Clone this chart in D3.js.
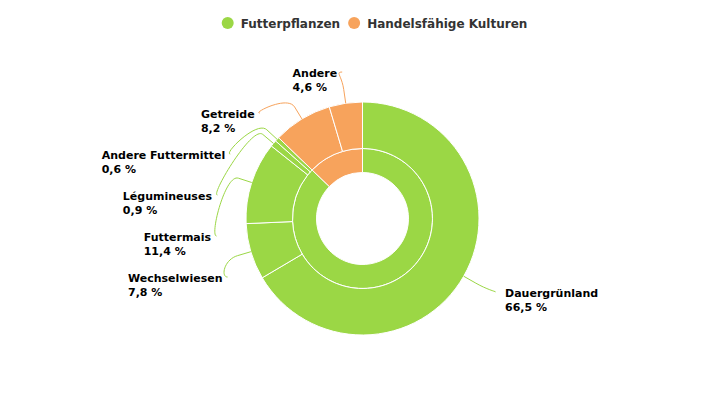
<!DOCTYPE html>
<html><head><meta charset="utf-8">
<script src="https://cdn.jsdelivr.net/npm/d3@7"></script>
<style>body{margin:0;background:#fff}svg{display:block}</style>
</head><body>
<svg id="chart" width="725" height="400"></svg>
<script>
// ---- data ----
const groups = ["Futterpflanzen", "Handelsfähige Kulturen"];
const groupValues = [87.2, 12.8];
const categories = ["Dauergrünland", "Wechselwiesen", "Futtermais", "Légumineuses", "Andere Futtermittel", "Getreide", "Andere"];
const categoryValues = [66.5, 7.8, 11.4, 0.9, 0.6, 8.2, 4.6];
const categoryGroup = [0, 0, 0, 0, 0, 1, 1];

// ---- style ----
const colors = ["#9bd745", "#f7a35c"];
const W = 725, H = 400;
const cx = 362.5, cy = 218.5;
const rHole = 46, rMid = 70, rOuter = 116.5;
const labelR = 148;
const fontFam = "'DejaVu Sans', sans-serif";

const svg = d3.select("#chart");
const fmt = v => d3.format(".1f")(v).replace(".", ",") + " %";

const pie = d3.pie().sort(null).value(d => d).startAngle(0).endAngle(2 * Math.PI);
const innerArcs = pie(groupValues);
const outerArcs = pie(categoryValues);

const g = svg.append("g").attr("transform", `translate(${cx},${cy})`);
const arcInner = d3.arc().innerRadius(rHole).outerRadius(rMid);
const arcOuter = d3.arc().innerRadius(rMid).outerRadius(rOuter);

g.selectAll("path.inner").data(innerArcs).join("path")
  .attr("class", "inner")
  .attr("d", arcInner)
  .attr("fill", (d, i) => colors[i])
  .attr("stroke", "#fff").attr("stroke-width", 1).attr("stroke-linejoin", "round");

g.selectAll("path.outer").data(outerArcs).join("path")
  .attr("class", "outer")
  .attr("d", arcOuter)
  .attr("fill", (d, i) => colors[categoryGroup[i]])
  .attr("stroke", "#fff").attr("stroke-width", 1).attr("stroke-linejoin", "round");

// ---- labels layout ----
const items = outerArcs.map((a, i) => {
  const mid = (a.startAngle + a.endAngle) / 2;
  return {
    i, mid,
    side: Math.sin(mid) >= 0 ? 1 : -1,
    natY: -labelR * Math.cos(mid)
  };
});
const spacing = 41;
[1, -1].forEach(side => {
  const arr = items.filter(d => d.side === side).sort((a, b) => a.natY - b.natY);
  let prev = -Infinity;
  arr.forEach(d => { d.y = Math.max(d.natY, prev + spacing); prev = d.y; });
  let limit = H - cy - 40;
  for (let k = arr.length - 1; k >= 0; k--) {
    if (arr[k].y > limit) arr[k].y = limit;
    limit = arr[k].y - spacing;
  }
});
items.forEach(d => {
  const dy = Math.max(-labelR, Math.min(labelR, d.y));
  d.x = d.side * Math.sqrt(labelR * labelR - dy * dy);
});

const lg = g.append("g");
items.forEach(d => {
  const col = colors[categoryGroup[d.i]];
  const touch = [rOuter * Math.sin(d.mid), -rOuter * Math.cos(d.mid)];
  const bR = rOuter + 14;
  const brk = [bR * Math.sin(d.mid), -bR * Math.cos(d.mid)];
  const sx = d.side > 0 ? d.x + 4 : d.x + 1, sy = d.y;
  const p = d3.path();
  p.moveTo(sx, sy);
  p.bezierCurveTo(d.x + d.side * 6, sy, 2 * brk[0] - touch[0], 2 * brk[1] - touch[1], brk[0], brk[1]);
  p.lineTo(touch[0], touch[1]);
  lg.append("path").attr("d", p.toString()).attr("fill", "none")
    .attr("stroke", col).attr("stroke-width", 1);

  const t = lg.append("text")
    .attr("font-family", fontFam).attr("font-size", 11).attr("font-weight", "bold")
    .attr("fill", "#000");
  t.append("tspan").attr("x", 0).attr("y", sy + 5).text(categories[d.i]);
  t.append("tspan").attr("x", 0).attr("y", sy + 19).text(fmt(categoryValues[d.i]));
  const bw = t.node().getBBox().width;
  const tx = d.side > 0 ? d.x + 14 : d.x - 4 - bw;
  t.selectAll("tspan").attr("x", tx);
});

// ---- legend ----
const leg = svg.append("g");
const legItems = [];
groups.forEach((name, i) => {
  const it = leg.append("g");
  it.append("circle").attr("cx", 6).attr("cy", 0).attr("r", 6).attr("fill", colors[i]);
  const tt = it.append("text").attr("x", 19).attr("y", 4.5)
    .attr("font-family", fontFam).attr("font-size", 12).attr("font-weight", "bold")
    .attr("fill", "#333333").text(name);
  const w = 19 + tt.node().getComputedTextLength();
  legItems.push({ it, w });
});
let total = legItems.reduce((s, d) => s + d.w, 0) + 8 * (legItems.length - 1);
let start = 374.5 - total / 2;
legItems.forEach(d => { d.it.attr("transform", `translate(${start},23)`); start += d.w + 8; });
</script>
</body></html>
